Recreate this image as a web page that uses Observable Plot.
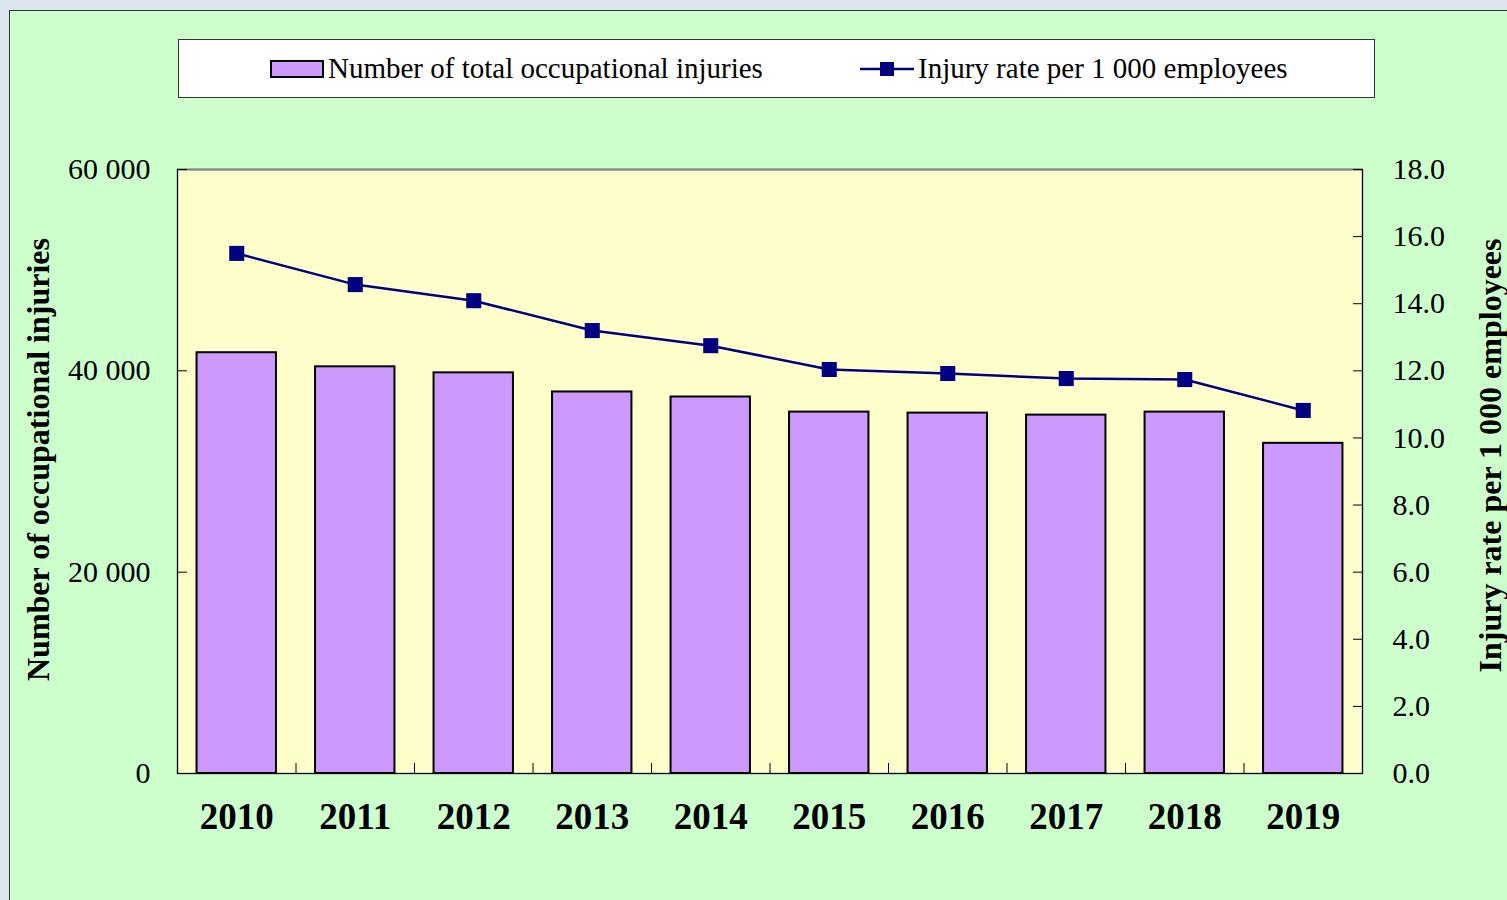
<!DOCTYPE html>
<html>
<head>
<meta charset="utf-8">
<script src="https://cdn.jsdelivr.net/npm/d3@7"></script>
<script src="https://cdn.jsdelivr.net/npm/@observablehq/plot@0.6"></script>
<style>
  body { margin: 0; width: 1507px; height: 900px; overflow: hidden; background: #dbe6f1; font-family: "Liberation Serif", "Times New Roman", serif; }
  #frame { position: absolute; left: 9px; top: 10px; width: 1510px; height: 900px; background: #ccffcc; border-left: 1px solid #333; border-top: 1px solid #333; }
  #chart { position: absolute; left: 0; top: 0; }
  #legend { position: absolute; left: 178px; top: 39px; width: 1195px; height: 57px; background: #fff; border: 1px solid #333; font-size: 29px; color: #000; }
  .lg { position: absolute; top: 0; height: 57px; display: flex; align-items: center; }
  .lg svg { margin-right: 4px; }
</style>
</head>
<body>
<div id="frame"></div>
<div id="chart"></div>
<div id="legend"></div>
<script>
const years = [2010, 2011, 2012, 2013, 2014, 2015, 2016, 2017, 2018, 2019];
const injuries = [41800, 40400, 39800, 37900, 37400, 35900, 35800, 35600, 35900, 32800];
const rates = [15.5, 14.57, 14.09, 13.2, 12.75, 12.04, 11.92, 11.77, 11.74, 10.82];
const leftTicks = [0, 20000, 40000, 60000];
const rightTicks = [0, 2, 4, 6, 8, 10, 12, 14, 16, 18];
const seriesNames = ["Number of total occupational injuries", "Injury rate per 1 000 employees"];
const axisTitles = ["Number of occupational injuries", "Injury rate per 1 000 employees"];

const BAR = "#cc99ff", LINE = "#000080";
const yMax = 60000, rMax = 18;
const toY = r => r * yMax / rMax;
const data = years.map((year, i) => ({year, count: injuries[i], rate: rates[i]}));
const boundaries = years.map(y => y - 0.5).concat([years[years.length - 1] + 0.5]);
const half = 0.335;
const fmtLeft = d => d3.format(",")(d).replace(/,/g, " ");

const chart = Plot.plot({
  width: 1507,
  height: 900,
  marginLeft: 177,
  marginRight: 145,
  marginTop: 169,
  marginBottom: 127,
  style: { background: "transparent", fontFamily: "'Liberation Serif', 'Times New Roman', serif", color: "#000", overflow: "visible" },
  x: { type: "linear", domain: [years[0] - 0.5, years[years.length - 1] + 0.5], axis: null },
  y: { domain: [0, yMax], axis: null, label: null },
  marks: [
    Plot.frame({ fill: "#ffffcc" }),
    Plot.rectY(data, { x1: d => d.year - half, x2: d => d.year + half, y: "count", fill: BAR, stroke: "#000", strokeWidth: 2 }),
    Plot.frame({ stroke: "#000", strokeWidth: 1.3 }),
    Plot.ruleY([yMax], { stroke: "#888", strokeWidth: 2 }),
    Plot.axisX({ ticks: years, tickSize: 0, tickPadding: 29, tickFormat: d => String(d), fontSize: 37, fontWeight: "bold", label: null }),
    Plot.axisX({ ticks: boundaries, tickSize: -10, tickFormat: () => "", label: null, stroke: "#000" }),
    Plot.axisY({ ticks: leftTicks, tickSize: 0, tickPadding: 27, tickFormat: fmtLeft, fontSize: 30, label: null }),
    Plot.axisY({ ticks: leftTicks, tickSize: -10, tickFormat: () => "", label: null }),
    Plot.axisY({ anchor: "right", ticks: rightTicks.map(toY), tickSize: 0, tickPadding: 30, tickFormat: d => (d * rMax / yMax).toFixed(1), fontSize: 30, label: null }),
    Plot.axisY({ anchor: "right", ticks: rightTicks.map(toY), tickSize: -10, tickFormat: () => "", label: null }),
    Plot.line(data, { x: "year", y: d => toY(d.rate), stroke: LINE, strokeWidth: 2.5 }),
    Plot.dot(data, { x: "year", y: d => toY(d.rate), symbol: "square", r: 8.5, fill: LINE, stroke: null }),
    Plot.text([axisTitles[0]], { text: d => d, frameAnchor: "left", textAnchor: "middle", dx: -139, dy: -12, rotate: -90, fontSize: 32, fontWeight: "bold", fill: "#000" }),
    Plot.text([axisTitles[1]], { text: d => d, frameAnchor: "right", textAnchor: "middle", dx: 128, dy: -16, rotate: -90, fontSize: 32, fontWeight: "bold", fill: "#000" })
  ]
});
document.getElementById("chart").appendChild(chart);

const legend = document.getElementById("legend");
legend.innerHTML = `
  <div class="lg" style="left:91px"><svg width="54" height="18"><rect x="1" y="1" width="52" height="16" fill="${BAR}" stroke="#000" stroke-width="2"/></svg><span>${seriesNames[0]}</span></div>
  <div class="lg" style="left:681px"><svg width="54" height="18"><line x1="0" y1="9" x2="54" y2="9" stroke="${LINE}" stroke-width="2.5"/><rect x="20" y="2" width="14" height="14" fill="${LINE}"/></svg><span>${seriesNames[1]}</span></div>`;
</script>
</body>
</html>
